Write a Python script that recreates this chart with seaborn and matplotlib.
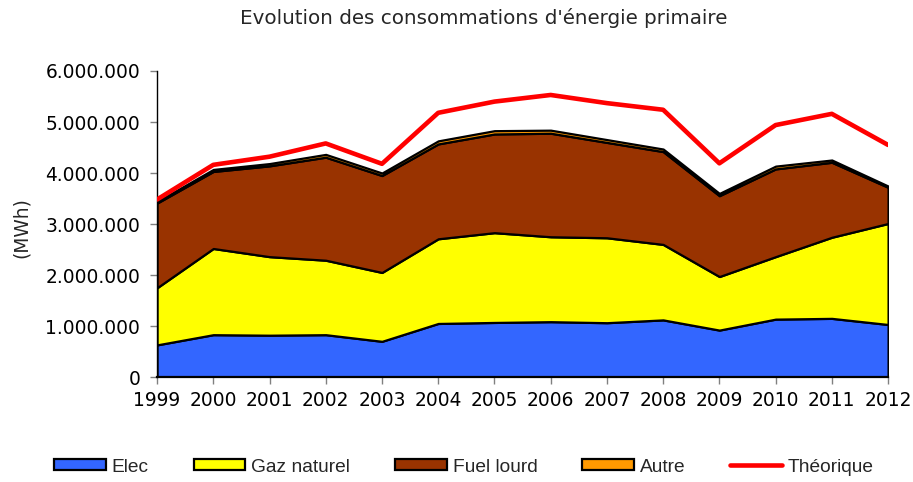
import numpy as np
import pandas as pd
import matplotlib
matplotlib.use("Agg")
import matplotlib.pyplot as plt
import seaborn as sns
from matplotlib.ticker import FuncFormatter
from matplotlib.patches import Patch
from matplotlib.lines import Line2D

# Données (MWh)
years = list(range(1999, 2013))
elec = [630000, 830000, 820000, 830000, 700000, 1050000, 1070000,
        1085000, 1065000, 1120000, 920000, 1135000, 1150000, 1030000]
gaz = [1120000, 1690000, 1540000, 1460000, 1350000, 1660000, 1760000,
       1665000, 1665000, 1480000, 1050000, 1225000, 1590000, 1980000]
fuel = [1660000, 1510000, 1780000, 2020000, 1900000, 1860000, 1935000,
        2030000, 1870000, 1820000, 1585000, 1720000, 1470000, 710000]
autre = [30000, 40000, 45000, 55000, 50000, 60000, 65000,
         60000, 55000, 50000, 45000, 55000, 45000, 25000]
theorique = [3480000, 4160000, 4320000, 4580000, 4180000, 5180000, 5400000,
             5530000, 5370000, 5240000, 4190000, 4940000, 5160000, 4550000]

labels = ["Elec", "Gaz naturel", "Fuel lourd", "Autre"]
colors = ["#3366FF", "#FFFF00", "#993300", "#FF9900"]

df = pd.DataFrame({"annee": years, "theorique": theorique})

sns.set_style("ticks")
plt.rcParams["font.family"] = ["DejaVu Sans"]

fig = plt.figure(figsize=(9.13, 4.82), dpi=100)
ax = fig.add_axes([0.172, 0.2178, 0.8007, 0.6349])

ax.stackplot(years, elec, gaz, fuel, autre, colors=colors,
             edgecolor="black", linewidth=1.6, zorder=2)
sns.lineplot(data=df, x="annee", y="theorique", color="#FF0000",
             linewidth=3.3, ax=ax, zorder=3)

ax.set_xlim(1999, 2012)
ax.set_ylim(0, 6000000)
ax.set_xticks(years)
ax.set_yticks(np.arange(0, 6000001, 1000000))
ax.yaxis.set_major_formatter(FuncFormatter(lambda v, p: f"{int(v):,}".replace(",", ".")))
ax.tick_params(axis="both", labelsize=13.4, length=5, width=1,
               direction="out", color="#808080", labelcolor="black")
ax.tick_params(axis="y", pad=7)
ax.tick_params(axis="x", pad=5)
ax.set_xlabel("")
ax.set_ylabel("(MWh)", fontsize=13.4)
ax.yaxis.set_label_coords((31 - 157) / 731, 0.49)
for s in ["top", "right"]:
    ax.spines[s].set_visible(False)
ax.spines["left"].set_color("black")
ax.spines["left"].set_linewidth(1)
ax.spines["bottom"].set_color("black")
ax.spines["bottom"].set_linewidth(1.6)

fig.text(0.5296, 0.963, "Evolution des consommations d'énergie primaire",
         ha="center", va="center", fontsize=14.3)

handles = [Patch(facecolor=c, edgecolor="black", linewidth=1.6) for c in colors]
handles.append(Line2D([0], [0], color="#FF0000", linewidth=3.3))
fig.legend(handles, labels + ["Théorique"], loc="center",
           bbox_to_anchor=(464 / 913, 1 - 467 / 482), ncol=5, frameon=False,
           prop={"family": "Liberation Sans", "size": 13.8},
           handlelength=2.7, handleheight=0.52,
           handletextpad=0.3, columnspacing=2.35)

fig.savefig("out.png", dpi=100)
